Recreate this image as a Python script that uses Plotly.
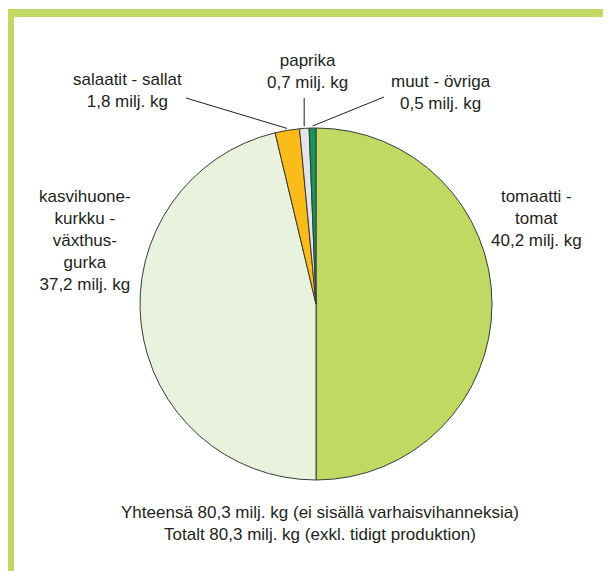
import math
import plotly.graph_objects as go

# ---- data ----
categories = ["tomaatti - tomat", "kasvihuonekurkku - växthusgurka",
              "salaatit - sallat", "paprika", "muut - övriga"]
values = [40.2, 37.2, 1.8, 0.7, 0.5]
label_texts = [
    "tomaatti -<br>tomat<br>40,2 milj. kg",
    "kasvihuone-<br>kurkku -<br>växthus-<br>gurka<br>37,2 milj. kg",
    "salaatit - sallat<br>1,8 milj. kg",
    "paprika<br>0,7 milj. kg",
    "muut - övriga<br>0,5 milj. kg",
]
total_text = ("Yhteensä 80,3 milj. kg (ei sisällä varhaisvihanneksia)<br>"
              "Totalt 80,3 milj. kg (exkl. tidigt produktion)")
colors = ["#bfd962", "#e9f2dd", "#fbbb18", "#e3e5e7", "#12975b"]

# ---- layout geometry (page pixels; the page body has an 8px margin) ----
OFF = 8
W, H = 611 - OFF, 571 - OFF
PIE_LEFT, PIE_RIGHT, PIE_TOP, PIE_BOTTOM = 140, 492, 128, 480
cx = (PIE_LEFT + PIE_RIGHT) / 2
cy = (PIE_TOP + PIE_BOTTOM) / 2
R = (PIE_RIGHT - PIE_LEFT) / 2

def px(x):
    return (x - OFF) / W

def py(y):
    return 1 - (y - OFF) / H

FONT = dict(family="Liberation Sans, Arial, sans-serif", size=17, color="#231f20")

fig = go.Figure(go.Pie(
    labels=categories, values=values, sort=False, direction="clockwise",
    rotation=0, textinfo="none", hoverinfo="label+value",
    marker=dict(colors=colors, line=dict(color="#3a3a3a", width=1)),
    domain=dict(x=[px(PIE_LEFT), px(PIE_RIGHT)], y=[py(PIE_BOTTOM), py(PIE_TOP)]),
    showlegend=False,
))

# slice mid-angles (clockwise from 12 o'clock)
tot = sum(values)
mids = []
acc = 0
for v in values:
    mids.append((acc + v / 2) / tot * 2 * math.pi)
    acc += v

def edge_point(i, extra=2):
    a = mids[i]
    return cx + (R + extra) * math.sin(a), cy - (R + extra) * math.cos(a)

# label positions (pixel centres)
label_pos = [(536, 218), (85, 241), (127, 91), (307, 72), (441, 93)]
for t, (lx, ly) in zip(label_texts, label_pos):
    fig.add_annotation(x=px(lx), y=py(ly), xref="paper", yref="paper",
                       text=t, showarrow=False, font=FONT, align="center",
                       xanchor="center", yanchor="middle")

fig.add_annotation(x=px(320), y=py(523), xref="paper", yref="paper",
                   text=total_text, showarrow=False, font=FONT, align="center",
                   xanchor="center", yanchor="middle")

# leader lines for small slices
starts = {2: (186, 98), 3: (None, 98), 4: (384, 97)}
shapes = []
for i, (sx, sy) in starts.items():
    ex, ey = edge_point(i)
    if sx is None:
        sx = ex
    shapes.append(dict(type="line", xref="paper", yref="paper",
                       x0=px(sx), y0=py(sy), x1=px(ex), y1=py(ey),
                       line=dict(color="#231f20", width=1)))

# frame
frame_col = "#bfd962"
shapes.append(dict(type="rect", xref="paper", yref="paper", layer="below",
                   x0=px(6), x1=1, y0=py(17), y1=py(9),
                   fillcolor=frame_col, line=dict(width=0)))
shapes.append(dict(type="rect", xref="paper", yref="paper", layer="below",
                   x0=px(6), x1=px(14), y0=0, y1=py(9),
                   fillcolor=frame_col, line=dict(width=0)))
shapes.append(dict(type="rect", xref="paper", yref="paper", layer="below",
                   x0=px(609), x1=px(610.5), y0=0, y1=py(17),
                   fillcolor="#dbe9b0", line=dict(width=0)))

fig.update_layout(width=W, height=H, margin=dict(l=0, r=0, t=0, b=0),
                  paper_bgcolor="white", plot_bgcolor="white", shapes=shapes)

fig.write_html("out.html")
